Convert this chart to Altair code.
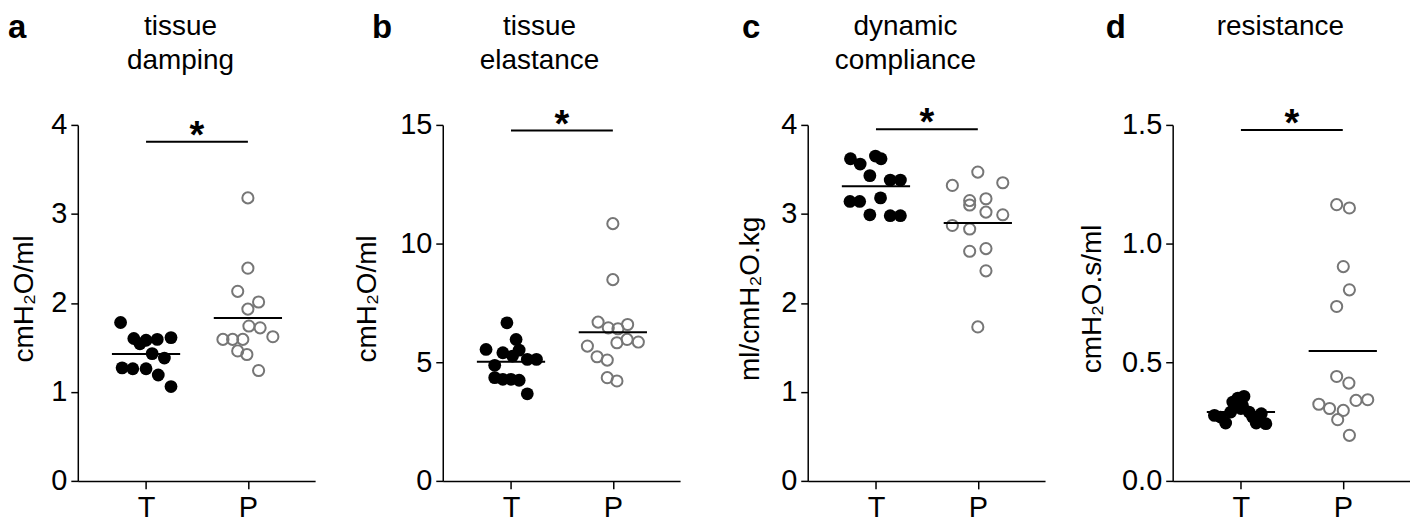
import altair as alt
import pandas as pd

FONT = "Liberation Sans"

letters = ["a", "b", "c", "d"]
titles = [["tissue", "damping"], ["tissue", "elastance"], ["dynamic", "compliance"], ["resistance"]]
y_titles = ["cmH₂O/ml", "cmH₂O/ml", "ml/cmH₂O.kg", "cmH₂O.s/ml"]
y_max = [4, 15, 4, 1.5]
y_ticks = [[0, 1, 2, 3, 4], [0, 5, 10, 15], [0, 1, 2, 3, 4], [0, 0.5, 1.0, 1.5]]
y_fmt = ["d", "d", "d", ".1f"]
sig_y = [3.81, 14.76, 3.95, 1.479]
group_labels = ["T", "P"]

# a: tissue damping
a_T = [1.78, 1.60, 1.54, 1.58, 1.59, 1.61, 1.43, 1.38, 1.27, 1.26, 1.26, 1.19, 1.06]
a_T_jit = [-0.25, -0.12, -0.06, 0.0, 0.11, 0.245, 0.06, 0.18, -0.235, -0.13, 0.0, 0.12, 0.245]
a_P = [3.18, 2.39, 2.13, 2.01, 1.93, 1.74, 1.72, 1.62, 1.59, 1.59, 1.59, 1.46, 1.42, 1.24]
a_P_jit = [0.0, 0.0, -0.1, 0.105, 0.0, 0.01, 0.12, 0.245, -0.245, -0.15, -0.05, -0.1, -0.01, 0.105]

# b: tissue elastance
b_T = [6.66, 5.54, 5.96, 5.40, 5.51, 5.26, 5.12, 5.12, 4.87, 4.35, 4.28, 4.28, 4.24, 3.67]
b_T_jit = [-0.04, -0.245, 0.05, -0.08, 0.08, 0.015, 0.16, 0.25, -0.16, -0.16, -0.08, 0.0, 0.08, 0.16]
b_P = [10.84, 8.48, 6.69, 6.45, 6.41, 6.59, 5.82, 5.96, 5.85, 5.68, 5.23, 5.09, 4.35, 4.21]
b_P_jit = [0.0, 0.0, -0.145, -0.045, 0.05, 0.145, 0.04, 0.14, 0.25, -0.25, -0.155, -0.055, -0.055, 0.04]

# c: dynamic compliance
c_T = [3.62, 3.56, 3.65, 3.62, 3.43, 3.38, 3.38, 3.14, 3.14, 3.18, 2.99, 2.98, 2.98]
c_T_jit = [-0.25, -0.155, -0.005, 0.05, -0.06, 0.14, 0.24, -0.255, -0.16, 0.045, -0.06, 0.14, 0.24]
c_P = [3.47, 3.32, 3.35, 3.15, 3.10, 3.17, 3.02, 2.99, 2.87, 2.83, 2.58, 2.61, 2.36, 1.73]
c_P_jit = [0.0, -0.25, 0.245, -0.08, -0.08, 0.08, 0.08, 0.245, -0.25, -0.08, -0.08, 0.08, 0.08, 0.0]

# d: resistance
d_T = [0.276, 0.269, 0.244, 0.332, 0.349, 0.356, 0.318, 0.290, 0.244, 0.283, 0.241, 0.290, 0.269, 0.305]
d_T_jit = [-0.26, -0.2, -0.15, -0.08, -0.03, 0.03, 0.015, 0.08, 0.15, 0.2, 0.245, -0.1, 0.115, 0.0]
d_P = [1.164, 1.150, 0.903, 0.805, 0.735, 0.440, 0.412, 0.323, 0.305, 0.297, 0.339, 0.342, 0.258, 0.192]
d_P_jit = [-0.06, 0.065, 0.005, 0.065, -0.06, -0.06, 0.06, -0.235, -0.13, 0.005, 0.13, 0.245, -0.05, 0.065]

panels_data = [
    (a_T, a_T_jit, a_P, a_P_jit),
    (b_T, b_T_jit, b_P, b_P_jit),
    (c_T, c_T_jit, c_P, c_P_jit),
    (d_T, d_T_jit, d_P, d_P_jit),
]

W, H = 238, 357
title_x = [103, 97, 98, 108]
letter_x = [-70, -71, -66, -67]
ytitle_x = [-53, -75, -57, -80]


def panel(i):
    tv, tj, pv, pj = panels_data[i]
    df = pd.DataFrame({
        "group": [group_labels[0]] * len(tv) + [group_labels[1]] * len(pv),
        "pos": [1] * len(tv) + [2] * len(pv),
        "jit": tj + pj,
        "value": tv + pv,
    })
    sig_df = pd.DataFrame({"from": [1], "to": [2], "value": [sig_y[i]]})

    xs = alt.Scale(domain=[0.33, 2.66], nice=False, zero=False)
    ys = alt.Scale(domain=[0, y_max[i]], nice=False, zero=True)
    x_axis = alt.Axis(values=[1, 2], labelExpr="datum.value == 1 ? 'T' : 'P'", title=None)
    y_axis = alt.Axis(values=y_ticks[i], format=y_fmt[i], title=y_titles[i],
                      titleX=ytitle_x[i], titleY=174, titleBaseline="middle",
                      titleAlign="center", titleAngle=270)

    base = alt.Chart(df).transform_calculate(xp="datum.pos + datum.jit")
    filled = base.transform_filter(f"datum.group == '{group_labels[0]}'").mark_circle(
        size=165, color="black", opacity=1
    ).encode(x=alt.X("xp:Q", scale=xs, axis=x_axis), y=alt.Y("value:Q", scale=ys, axis=y_axis))
    hollow = base.transform_filter(f"datum.group == '{group_labels[1]}'").mark_point(
        shape="circle", filled=False, size=125, strokeWidth=2, color="#767676", opacity=1
    ).encode(x=alt.X("xp:Q", scale=xs), y=alt.Y("value:Q", scale=ys))
    means = alt.Chart(df).transform_aggregate(
        value="mean(value)", groupby=["pos"]
    ).transform_calculate(
        xp="datum.pos - 0.335", xp2="datum.pos + 0.335"
    ).mark_rule(color="black", strokeWidth=2).encode(
        x=alt.X("xp:Q", scale=xs), x2="xp2:Q", y=alt.Y("value:Q", scale=ys)
    )
    sig_base = alt.Chart(sig_df).transform_calculate(
        xp="datum.from", xp2="datum.to", xm="(datum.from + datum.to) / 2"
    )
    bar = sig_base.mark_rule(color="black", strokeWidth=2).encode(
        x=alt.X("xp:Q", scale=xs), x2="xp2:Q", y=alt.Y("value:Q", scale=ys)
    )
    star = sig_base.mark_text(
        fontSize=38, fontWeight="bold", font=FONT, baseline="alphabetic", dy=6, color="black"
    ).encode(x=alt.X("xm:Q", scale=xs), y=alt.Y("value:Q", scale=ys), text=alt.value("*"))
    title = alt.Chart(sig_df).mark_text(
        fontSize=28, font=FONT, baseline="alphabetic", lineHeight=34, align="center", color="black"
    ).encode(x=alt.value(title_x[i]), y=alt.value(-90), text=alt.value(titles[i]))
    letter = alt.Chart(sig_df).mark_text(
        fontSize=33, font=FONT, fontWeight="bold", baseline="alphabetic", align="left", color="black"
    ).encode(x=alt.value(letter_x[i]), y=alt.value(-87), text=alt.value(letters[i]))
    return alt.layer(filled, hollow, means, bar, star, title, letter).properties(width=W, height=H)


chart = alt.hconcat(*[panel(i) for i in range(4)], spacing=128, bounds="flush").properties(
    padding={"left": 0, "top": 3.5, "right": 0, "bottom": 0}
).configure_view(stroke=None).configure_axis(
    domainColor="black", domainWidth=1.5, tickColor="black", tickWidth=1.5,
    labelColor="black", titleColor="black", labelFont=FONT, titleFont=FONT,
    grid=False, titleFontWeight="normal"
).configure_axisX(
    tickSize=8, labelFontSize=29, labelPadding=5
).configure_axisY(
    tickSize=7, labelFontSize=29, labelPadding=4, titleFontSize=28
)

chart.save("out.html", embed_options={"renderer": "svg", "actions": False})
